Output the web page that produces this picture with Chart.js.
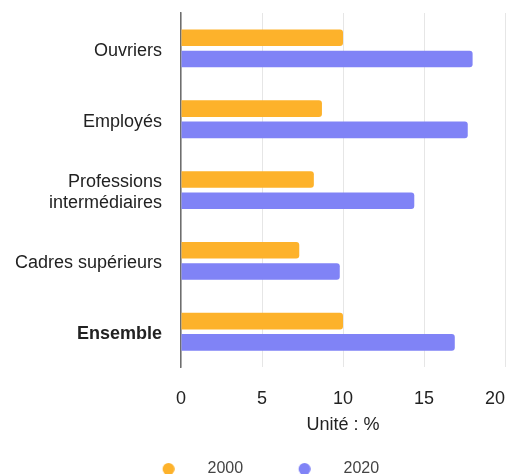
<!DOCTYPE html>
<html lang="fr">
<head>
<meta charset="utf-8">
<script src="https://cdn.jsdelivr.net/npm/chart.js@4.4.1/dist/chart.umd.min.js"></script>
<style>
  html, body { margin: 0; padding: 0; background: #fff; }
  #wrap { width: 506px; height: 474px; position: relative; }
</style>
</head>
<body>
<div id="wrap"><canvas id="myChart"></canvas></div>
<script>
const categories = ["Ouvriers", "Employés", ["Professions", "intermédiaires"], "Cadres supérieurs", "Ensemble"];
const seriesNames = ["2000", "2020"];
const values2000 = [10, 8.7, 8.2, 7.3, 10];
const values2020 = [18, 17.7, 14.4, 9.8, 16.9];
const xTicks = [0, 5, 10, 15, 20];

const colors = ["#fdb22b", "#8083f6"];

// legend dots: a small canvas with the dot pushed a bit right of centre
function makeDot(color) {
  const c = document.createElement("canvas");
  c.width = 24;
  c.height = 12;
  const g = c.getContext("2d");
  g.fillStyle = color;
  g.beginPath();
  g.arc(17.8, 6, 6, 0, Math.PI * 2);
  g.fill();
  return c;
}
const dots = colors.map(makeDot);

Chart.defaults.font.family = "'Liberation Sans', Arial, sans-serif";

document.addEventListener("DOMContentLoaded", function() {
  new Chart("myChart", {
    type: "bar",
    data: {
      labels: categories,
      datasets: [
        { label: seriesNames[0], data: values2000, backgroundColor: colors[0], borderRadius: 3 },
        { label: seriesNames[1], data: values2020, backgroundColor: colors[1], borderRadius: 3 }
      ]
    },
    options: {
      indexAxis: "y",
      responsive: true,
      maintainAspectRatio: false,
      animation: false,
      categoryPercentage: 0.6,
      barPercentage: 0.78,
      layout: { padding: { left: 0, right: 1, top: 13, bottom: -13 } },
      scales: {
        x: {
          min: 0,
          max: 20,
          afterBuildTicks: function(scale) {
            scale.ticks = xTicks.map(v => ({ value: v }));
          },
          afterFit: function(scale) {
            scale.paddingRight = 0;
            scale.height = 75;
          },
          grid: { color: "#e6e6e6", drawTicks: false },
          border: { display: false },
          ticks: {
            padding: 21,
            color: "#222",
            font: { size: 18 },
            callback: function(value, index, ticks) {
              // last label sits inside the right edge
              return index === ticks.length - 1 ? value + "    " : value;
            }
          },
          title: {
            display: true,
            text: "Unité : %",
            color: "#222",
            font: { size: 18 },
            padding: { top: 4.6, bottom: 6.2 }
          }
        },
        y: {
          afterFit: function(scale) {
            scale.width = 181;
            scale.paddingTop = 0;
            scale.paddingBottom = 0;
          },
          grid: { display: false, drawTicks: false },
          border: { color: "#6e6e6e", width: 1.5 },
          ticks: {
            padding: 19,
            labelOffset: 2.5,
            color: "#222",
            font: function(c) {
              return { size: 18, weight: c.index === 4 ? "bold" : "normal" };
            }
          }
        }
      },
      plugins: {
        tooltip: { enabled: false },
        legend: {
          position: "bottom",
          labels: {
            usePointStyle: true,
            pointStyleWidth: 73.6,
            padding: 18.8,
            color: "#444",
            font: { size: 16 },
            generateLabels: function(chart) {
              return Chart.defaults.plugins.legend.labels.generateLabels(chart)
                .map((item, i) => Object.assign(item, { pointStyle: dots[i] }));
            }
          }
        }
      }
    }
  });
});
</script>
</body>
</html>
